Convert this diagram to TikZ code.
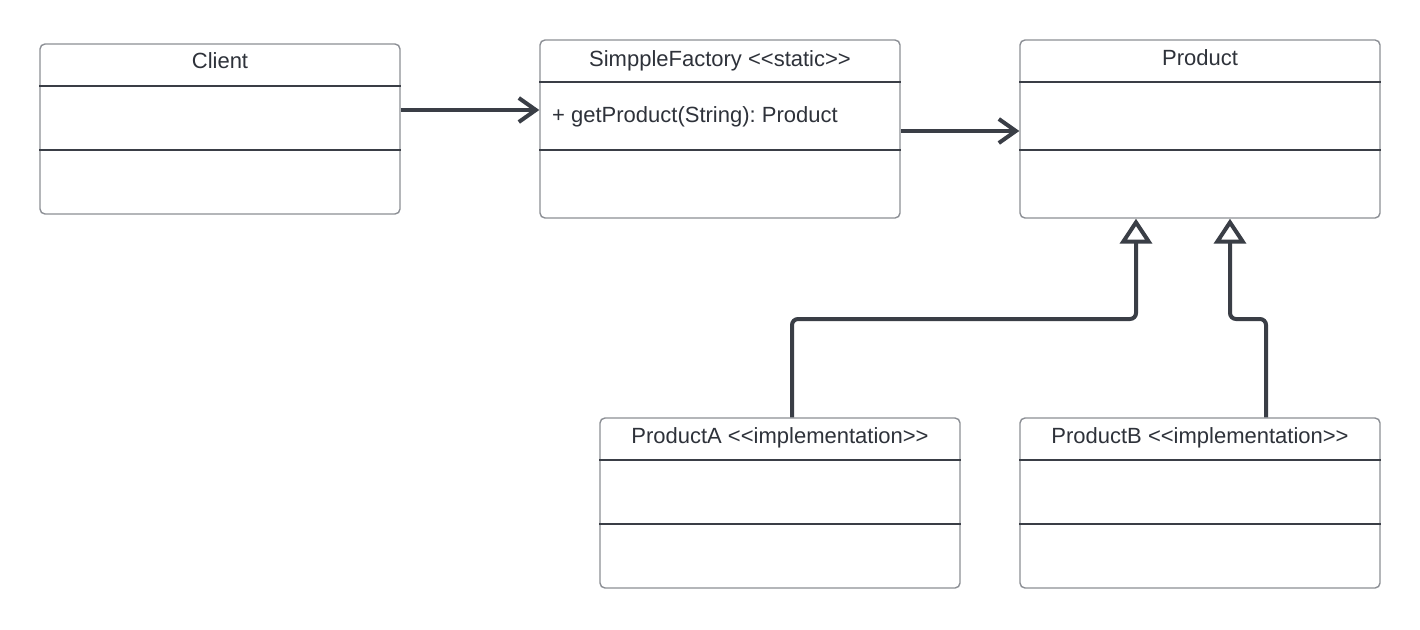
\documentclass[tikz,border=0pt]{standalone}
\usepackage{fontspec}
\setmainfont{Liberation Sans}
\frenchspacing
\usetikzlibrary{arrows.meta}
\definecolor{boxgray}{HTML}{8C8F95}
\definecolor{inkdark}{HTML}{3A3E46}
\definecolor{textdark}{HTML}{2E323A}
\tikzset{
  umlbox/.style={draw=boxgray, line width=1.4pt, rounded corners=5pt, fill=white,
                 minimum width=360pt, inner sep=0pt},
  divider/.style={draw=inkdark, line width=1.4pt},
  label/.style={text=textdark, font=\fontsize{22}{26}\selectfont, inner sep=0pt},
  assoc/.style={draw=inkdark, line width=4pt,
                -{Straight Barb[length=17pt, width=24pt, line width=4pt]}},
  realize/.style={draw=inkdark, line width=4pt, rounded corners=6pt,
                  -{Triangle[open, length=25pt, width=32pt, line width=4pt, fill=white]}}
}
\begin{document}
\begin{tikzpicture}[x=1pt, y=-1pt]
\useasboundingbox[fill=white] (0,0) rectangle (1420,629);

% class boxes
\node[umlbox, minimum height=170pt] (client)  at (220,129) {};
\node[umlbox, minimum height=178pt] (factory) at (720,129) {};
\node[umlbox, minimum height=178pt] (product) at (1200,129) {};
\node[umlbox, minimum height=170pt] (prodA)   at (780,503) {};
\node[umlbox, minimum height=170pt] (prodB)   at (1200,503) {};

% compartment lines
\draw[divider] (client.west |- 0,86)  -- (client.east |- 0,86);
\draw[divider] (client.west |- 0,150) -- (client.east |- 0,150);
\draw[divider] (factory.west |- 0,82)  -- (factory.east |- 0,82);
\draw[divider] (factory.west |- 0,150) -- (factory.east |- 0,150);
\draw[divider] (product.west |- 0,82)  -- (product.east |- 0,82);
\draw[divider] (product.west |- 0,150) -- (product.east |- 0,150);
\draw[divider] (prodA.west |- 0,460) -- (prodA.east |- 0,460);
\draw[divider] (prodA.west |- 0,524) -- (prodA.east |- 0,524);
\draw[divider] (prodB.west |- 0,460) -- (prodB.east |- 0,460);
\draw[divider] (prodB.west |- 0,524) -- (prodB.east |- 0,524);

% class names and members
\node[label, anchor=base] (clientT)  at (220,68)  {Client};
\node[label, anchor=base] (factoryT) at (720,66)  {SimppleFactory <{}<static>{}>};
\node[label, anchor=base west] (factoryM) at (552,122) {+ getProduct(String): Product};
\node[label, anchor=base] (productT) at (1200,65) {Product};
\node[label, anchor=base] (prodAT)   at (780,443) {ProductA <{}<implementation>{}>};
\node[label, anchor=base] (prodBT)   at (1200,443) {ProductB <{}<implementation>{}>};

% associations
\draw[assoc] (client.east |- 0,110) -- (factory.west |- 0,110);
\draw[assoc] (factory.east |- 0,131) -- (product.west |- 0,131);

% realizations
\draw[realize] (prodA.north -| 792,0) |- (1136,319) -- (product.south -| 1136,0);
\draw[realize] (prodB.north -| 1266,0) |- (1230,319) -- (product.south -| 1230,0);
\end{tikzpicture}
\end{document}
